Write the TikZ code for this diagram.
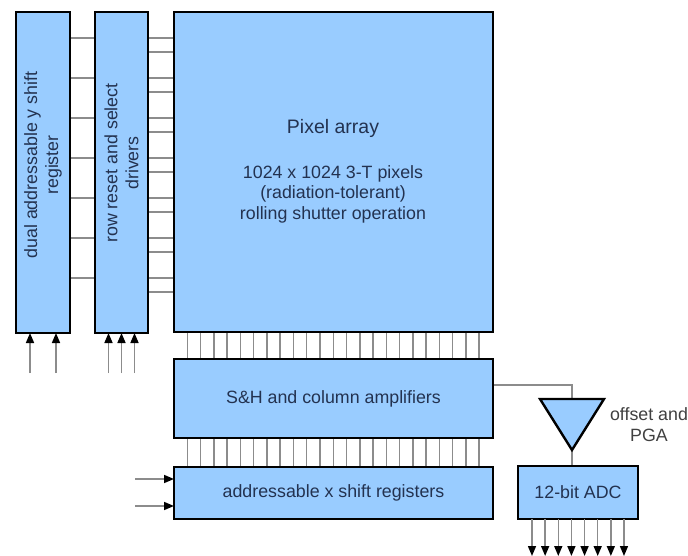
\documentclass[tikz,border=0pt]{standalone}
\usepackage{fontspec}
\setmainfont{Liberation Sans}
\usetikzlibrary{arrows.meta}
\definecolor{boxfill}{RGB}{153,204,255}
\definecolor{txt}{RGB}{35,50,80}
\definecolor{wirecol}{RGB}{140,140,140}
\pgfdeclarelayer{bg}
\pgfsetlayers{bg,main}
\begin{document}
\begin{tikzpicture}[x=1pt,y=-1pt,
  blk/.style={draw=black, line width=2.4pt, fill=boxfill, inner sep=0pt, outer sep=0pt},
  lbl/.style={text=txt, font=\fontsize{17.8}{21}\selectfont, align=center, inner sep=0pt},
  wire/.style={draw=wirecol, line width=1.5pt},
  inarrow/.style={wire, -{Triangle[length=10pt,width=8pt,color=black]}}]
\useasboundingbox (0,0) rectangle (688,556);

% blocks
\node[blk, minimum width=54, minimum height=321] (yreg) at (43,172.5) {};
\node[blk, minimum width=53, minimum height=321] (rowdrv) at (121.5,172.5) {};
\node[blk, minimum width=319, minimum height=320] (pa) at (333.5,172) {};
\node[blk, minimum width=319, minimum height=79] (sh) at (333.5,398.5) {};
\node[blk, minimum width=319, minimum height=52] (xs) at (333.5,493) {};
\node[blk, minimum width=120, minimum height=53] (adc) at (578,492.5) {};
\coordinate (pgaTop) at (572,399);
\coordinate (pgaApex) at (572,450);
\draw[blk] (540,399) -- (604,399) -- (pgaApex) -- cycle;

% labels
\node[lbl, rotate=90] (yregl) at (43,165) {dual addressable y shift\\register};
\node[lbl, rotate=90] (rowdrvl) at (121.5,163) {row reset and select\\drivers};
\node[lbl, font=\fontsize{19.5}{22}\selectfont] (patitle) at (333,128) {Pixel array};
\node[lbl, font=\fontsize{17.8}{20.5}\selectfont] (padesc) at (333,194) {1024 x 1024 3-T pixels\\(radiation-tolerant)\\rolling shutter operation};
\node[lbl] (shl) at (sh) {S\&H and column amplifiers};
\node[lbl] (xsl) at (xs) {addressable x shift registers};
\node[lbl] (adcl) at (adc) {12-bit ADC};
\node[lbl, text=black!75] (pgal) at (649,425) {offset and\\PGA};

\begin{pgfonlayer}{bg}
% row lines
\foreach \k in {0,...,6} {
  \pgfmathsetmacro\ya{38+40*\k}
  \pgfmathsetmacro\yb{52+40*\k}
  \draw[wire] (yreg.east |- 0,\ya) -- (rowdrv.west |- 0,\ya);
  \draw[wire] (rowdrv.east |- 0,\ya) -- (pa.west |- 0,\ya);
  \draw[wire] (rowdrv.east |- 0,\yb) -- (pa.west |- 0,\yb);
}
% column lines
\foreach \i in {0,...,22} {
  \pgfmathsetmacro\xx{187.3+13.27*\i}
  \draw[wire] (pa.south -| \xx,0) -- (sh.north -| \xx,0);
  \draw[wire] (sh.south -| \xx,0) -- (xs.north -| \xx,0);
}
% S&H to PGA to ADC
\draw[wire] (sh.east |- 0,385) -| (pgaTop);
\draw[wire] (pgaApex) -- (adc.north -| pgaApex);
\end{pgfonlayer}

% input arrows
\foreach \dx in {-13,13}
  \draw[inarrow] ([xshift=\dx pt,yshift=-40pt]yreg.south) -- ([xshift=\dx pt]yreg.south);
\foreach \dx in {-13,0,13}
  \draw[inarrow] ([xshift=\dx pt,yshift=-40pt]rowdrv.south) -- ([xshift=\dx pt]rowdrv.south);
\foreach \dy in {14,-13}
  \draw[inarrow] ([xshift=-39pt,yshift=\dy pt]xs.west) -- ([yshift=\dy pt]xs.west);
% ADC outputs
\foreach \i in {0,...,7}
  \draw[inarrow] ([xshift=-46pt+13.14pt*\i]adc.south) -- ([xshift=-46pt+13.14pt*\i,yshift=-37pt]adc.south);
\end{tikzpicture}
\end{document}
